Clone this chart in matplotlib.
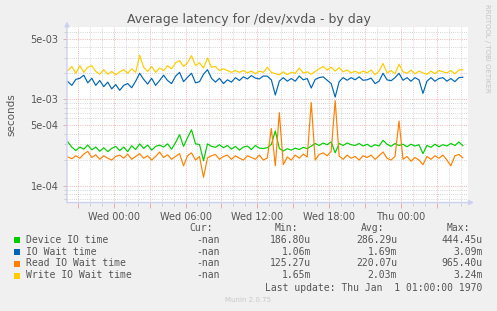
import numpy as np
import matplotlib
matplotlib.use("Agg")
import matplotlib.pyplot as plt
from matplotlib.patches import Rectangle
from matplotlib.ticker import FixedLocator, FuncFormatter, NullFormatter

# --- data: one sample every 20 minutes, hours relative to Wed 00:00 ---
SAMPLE_START_H = -3.83
SAMPLE_STEP_H = 1 / 3

# write IO wait (ms)
write_wait_ms = [
    2.15, 2.40, 2.00, 2.45, 2.05, 2.35, 2.45, 2.10, 1.95, 2.20,
    1.95, 2.10, 1.92, 2.08, 2.20, 2.00, 2.25, 2.05, 3.24, 2.35,
    2.10, 2.40, 2.05, 2.30, 2.15, 2.45, 2.25, 2.65, 2.80, 2.40,
    2.65, 3.20, 2.45, 2.65, 2.30, 3.00, 2.35, 2.40, 2.15, 2.25,
    2.15, 2.05, 2.15, 2.05, 2.15, 2.02, 2.12, 1.98, 2.12, 2.05,
    2.35, 2.05, 1.98, 1.92, 2.08, 1.93, 2.05, 2.00, 2.30, 2.02,
    2.08, 1.95, 2.10, 2.25, 2.40, 2.18, 2.35, 2.12, 2.32, 2.08,
    2.18, 2.02, 2.12, 2.00, 2.12, 2.02, 2.18, 1.93, 2.12, 2.60,
    2.02, 2.15, 1.97, 2.55, 2.08, 2.00, 2.18, 1.97, 2.12, 2.02,
    1.95, 2.12, 1.98, 2.15, 2.08, 2.02, 2.15, 1.97, 2.18, 2.20,
]
# IO wait (ms)
io_wait_ms = [
    1.60, 1.45, 1.70, 1.75, 1.90, 1.55, 1.75, 1.45, 1.65, 1.40,
    1.58, 1.32, 1.48, 1.27, 1.45, 1.52, 1.36, 1.62, 2.00, 1.70,
    1.50, 1.75, 1.45, 1.65, 1.90, 1.65, 1.52, 1.85, 2.05, 1.60,
    1.80, 2.00, 1.55, 1.60, 1.95, 2.20, 1.75, 1.58, 1.75, 1.52,
    1.68, 1.58, 1.78, 1.65, 1.82, 1.72, 1.88, 1.76, 1.72, 1.86,
    1.85, 1.68, 1.12, 1.62, 1.78, 1.62, 1.74, 1.62, 1.86, 1.68,
    1.74, 1.35, 1.70, 1.78, 1.82, 1.66, 1.52, 1.06, 1.60, 1.78,
    1.66, 1.78, 1.68, 1.82, 1.66, 1.68, 1.76, 1.52, 1.62, 2.00,
    1.68, 1.64, 1.78, 2.00, 1.66, 1.78, 1.62, 1.78, 1.68, 1.17,
    1.62, 1.78, 1.62, 1.74, 1.78, 1.62, 1.74, 1.60, 1.78, 1.80,
]
# device IO time (us)
device_io_us = [
    320, 280, 255, 280, 265, 295, 260, 280, 250, 275,
    248, 270, 285, 255, 280, 248, 290, 262, 305, 270,
    295, 258, 285, 295, 280, 305, 265, 315, 390, 285,
    360, 444, 305, 300, 195, 305, 285, 278, 298, 275,
    292, 265, 285, 258, 280, 288, 262, 292, 272, 270,
    275, 300, 430, 270, 252, 268, 258, 272, 262, 278,
    268, 288, 308, 292, 312, 298, 322, 240, 308, 292,
    312, 298, 292, 308, 288, 302, 282, 298, 288, 335,
    302, 286, 308, 292, 302, 282, 302, 288, 298, 235,
    292, 278, 302, 282, 298, 288, 308, 292, 320, 290,
]
# read IO wait (us)
read_wait_us = [
    215, 205, 222, 208, 232, 250, 212, 228, 202, 222,
    208, 198, 218, 226, 208, 232, 202, 218, 235, 208,
    222, 198, 218, 245, 212, 228, 202, 218, 235, 170,
    222, 240, 198, 218, 125, 210, 222, 230, 202, 218,
    226, 202, 222, 208, 198, 222, 212, 202, 226, 198,
    210, 460, 170, 700, 175, 215, 198, 226, 208, 232,
    215, 920, 198, 230, 240, 222, 250, 965, 220, 202,
    226, 208, 218, 198, 222, 212, 226, 202, 222, 245,
    208, 198, 218, 560, 202, 218, 192, 212, 198, 175,
    218, 202, 222, 208, 226, 198, 170, 222, 230, 210,
]

labels = ["Device IO time", "IO Wait time", "Read IO Wait time", "Write IO Wait time"]
colors = ["#00cc00", "#0066b3", "#ff8000", "#ffcc00"]
stat_cur = ["-nan", "-nan", "-nan", "-nan"]
stat_min = ["186.80u", "1.06m", "125.27u", "1.65m"]
stat_avg = ["286.29u", "1.69m", "220.07u", "2.03m"]
stat_max = ["444.45u", "3.09m", "965.40u", "3.24m"]

hour_labels = {0: "Wed 00:00", 6: "Wed 06:00", 12: "Wed 12:00",
               18: "Wed 18:00", 24: "Thu 00:00"}

# --- plot ---
W, H = 497, 311
TXT = "#555555"
fig = plt.figure(figsize=(W / 100, H / 100), dpi=100, facecolor="#f0f0f0")


def px(x, y):
    return x / W, 1 - y / H


ax = fig.add_axes([67 / W, (H - 202.5) / H, 401 / W, (202.5 - 26.7) / H])
ax.set_facecolor("white")

hours = SAMPLE_START_H + SAMPLE_STEP_H * np.arange(len(write_wait_ms))
series = [np.array(device_io_us) * 1e-6, np.array(io_wait_ms) * 1e-3,
          np.array(read_wait_us) * 1e-6, np.array(write_wait_ms) * 1e-3]
for s, c in zip(series, colors):
    ax.plot(hours, s, color=c, lw=0.85, zorder=3)

ax.set_yscale("log")
ax.set_ylim(6.39e-5, 6.92e-3)
ax.set_xlim(-3.9, 29.6)

ymaj = [1e-4, 5e-4, 1e-3, 5e-3]
ymin = [7e-5, 8e-5, 9e-5, 2e-4, 3e-4, 4e-4, 6e-4, 7e-4, 8e-4, 9e-4,
        2e-3, 3e-3, 4e-3, 6e-3]
ax.yaxis.set_major_locator(FixedLocator(ymaj))
ax.yaxis.set_minor_locator(FixedLocator(ymin))
ax.yaxis.set_major_formatter(FuncFormatter(lambda v, p: f"{v:.0e}"))
ax.yaxis.set_minor_formatter(NullFormatter())

ax.xaxis.set_major_locator(FixedLocator(list(range(-3, 30, 3))))
ax.xaxis.set_minor_locator(FixedLocator(list(range(-3, 30, 1))))
ax.xaxis.set_major_formatter(FuncFormatter(lambda v, p: hour_labels.get(int(round(v)), "")))

dots = (0, (1, 1.6))
ax.grid(which="major", color="#e8a0a0", lw=0.6, linestyle=dots, zorder=1)
ax.grid(which="minor", color="#c8c8c8", lw=0.6, linestyle=dots, zorder=1)
ax.set_axisbelow(True)

ax.tick_params(axis="both", which="both", labelsize=7, labelcolor=TXT)
ax.tick_params(axis="x", which="major", length=3.5, width=0.6, color="#e8a0a0", pad=3)
ax.tick_params(axis="x", which="minor", length=2.5, width=0.6, color="#c8c8c8")
ax.tick_params(axis="y", which="major", length=3, width=0.6, color="#e8a0a0", pad=3)
ax.tick_params(axis="y", which="minor", length=2, width=0.6, color="#c8c8c8")
for sp in ax.spines.values():
    sp.set_visible(False)

# axis lines with arrow heads
axis_col = "#ccd0f0"
ax.annotate("", xy=(0, 1.03), xytext=(0, 0), xycoords="axes fraction",
            arrowprops=dict(arrowstyle="-|>", color=axis_col, lw=1, mutation_scale=7,
                            shrinkA=0, shrinkB=0), annotation_clip=False)
ax.annotate("", xy=(1.015, 0), xytext=(0, 0), xycoords="axes fraction",
            arrowprops=dict(arrowstyle="-|>", color=axis_col, lw=1, mutation_scale=7,
                            shrinkA=0, shrinkB=0), annotation_clip=False)

fig.text(*px(249, 20), "Average latency for /dev/xvda - by day", ha="center",
         va="center", fontsize=9, color=TXT)
fig.text(*px(11, 115), "seconds", rotation=90, ha="center", va="center",
         fontsize=7.5, color=TXT)
fig.text(*px(487, 4), "RRDTOOL / TOBI OETIKER", rotation=270, ha="center",
         va="top", fontsize=5, color="#c4c4c4")

# legend block
mono = dict(family="DejaVu Sans Mono", fontsize=7, color=TXT)
for xr, head in [(212.7, "Cur:"), (298.3, "Min:"), (384.3, "Avg:"), (470, "Max:")]:
    fig.text(*px(xr, 227.7), head, ha="right", va="center", **mono)
rows_y = [240, 251.7, 263.5, 275.5]
for i, yy in enumerate(rows_y):
    fig.patches.append(Rectangle(px(14, yy + 3), 6 / W, 6 / H, transform=fig.transFigure,
                                 facecolor=colors[i], edgecolor="none"))
    fig.text(*px(26, yy), labels[i], ha="left", va="center", **mono)
    fig.text(*px(219.3, yy), stat_cur[i], ha="right", va="center", **mono)
    fig.text(*px(311, yy), stat_min[i], ha="right", va="center", **mono)
    fig.text(*px(397, yy), stat_avg[i], ha="right", va="center", **mono)
    fig.text(*px(482.7, yy), stat_max[i], ha="right", va="center", **mono)
fig.text(*px(482.7, 287.7), "Last update: Thu Jan  1 01:00:00 1970", ha="right",
         va="center", **mono)
fig.text(*px(248, 300), "Munin 2.0.75", ha="center", va="center", fontsize=5,
         color="#c8c8c8")

fig.savefig("out.png", dpi=100, facecolor=fig.get_facecolor())
